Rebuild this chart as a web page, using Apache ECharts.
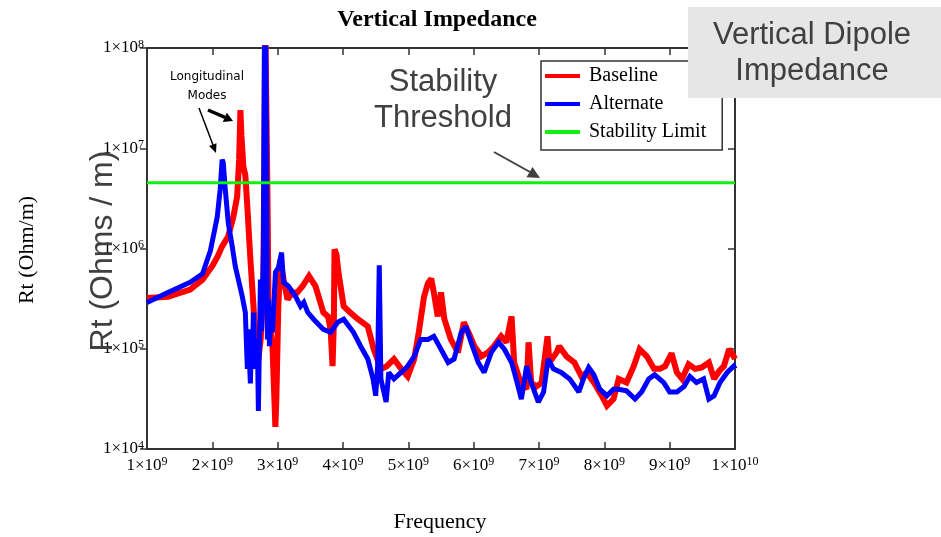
<!DOCTYPE html>
<html>
<head>
<meta charset="utf-8">
<title>Vertical Impedance</title>
<script src="https://cdn.jsdelivr.net/npm/echarts@6/dist/echarts.min.js"></script>
<style>
  html, body { margin: 0; padding: 0; background: #fff; }
  #chart { width: 941px; height: 537px; }
</style>
</head>
<body>
<div id="chart"></div>
<script>
// Frequency axis ticks (Hz) and impedance decades (Ohm/m)
const freqTicks = [1e9, 2e9, 3e9, 4e9, 5e9, 6e9, 7e9, 8e9, 9e9, 1e10];
const impedanceDecades = [1e4, 1e5, 1e6, 1e7, 1e8];

// Stability limit (Ohm/m)
const stabilityLimit = 4.54e6;

// Baseline impedance: [frequency Hz, Rt Ohm/m]
const baseline = [
  [1.00e9, 3.2e5], [1.32e9, 3.3e5], [1.66e9, 3.9e5], [1.85e9, 4.9e5], [2.00e9, 6.7e5],
  [2.08e9, 8.3e5], [2.15e9, 1.05e6], [2.24e9, 1.31e6], [2.32e9, 2.05e6], [2.38e9, 3.3e6],
  [2.41e9, 7.7e6], [2.43e9, 2.4e7], [2.445e9, 1.35e7], [2.475e9, 6.5e6], [2.505e9, 5.4e6],
  [2.536e9, 2.6e6], [2.58e9, 8.3e5], [2.63e9, 2.65e5], [2.66e9, 1.24e5], [2.69e9, 6.7e4],
  [2.74e9, 1.24e5], [2.78e9, 3.9e5], [2.797e9, 9.5e6], [2.81e9, 2e8], [2.83e9, 2e8],
  [2.845e9, 3e6], [2.86e9, 2.65e5], [2.89e9, 1.56e5], [2.92e9, 1.06e5], [2.95e9, 3.15e4],
  [2.965e9, 1.66e4], [2.98e9, 3.15e4], [3.01e9, 2.65e5], [3.04e9, 7.7e5], [3.09e9, 4.9e5],
  [3.15e9, 3.1e5], [3.23e9, 3.65e5], [3.30e9, 3.65e5], [3.38e9, 4.2e5], [3.48e9, 5.3e5],
  [3.58e9, 4.2e5], [3.70e9, 2.3e5], [3.77e9, 2.1e5], [3.81e9, 1.56e5], [3.84e9, 6.7e4],
  [3.86e9, 1.8e5], [3.87e9, 9.8e5], [3.90e9, 8.7e5], [3.93e9, 5.8e5], [4.01e9, 2.65e5],
  [4.11e9, 2.3e5], [4.23e9, 1.97e5], [4.38e9, 1.67e5], [4.47e9, 9.9e4], [4.58e9, 6.3e4],
  [4.67e9, 6.7e4], [4.78e9, 7.9e4], [4.89e9, 6.3e4], [4.99e9, 5.3e4], [5.09e9, 7.9e4],
  [5.16e9, 1.46e5], [5.24e9, 3.3e5], [5.30e9, 4.5e5], [5.35e9, 5.0e5], [5.39e9, 3.65e5],
  [5.45e9, 2.1e5], [5.50e9, 3.65e5], [5.55e9, 2.0e5], [5.65e9, 1.24e5], [5.76e9, 9.2e4],
  [5.85e9, 1.84e5], [5.92e9, 1.46e5], [6.01e9, 1.06e5], [6.12e9, 8.4e4], [6.22e9, 9.2e4],
  [6.31e9, 1.06e5], [6.42e9, 1.33e5], [6.50e9, 1.16e5], [6.58e9, 2.1e5], [6.62e9, 7.3e4],
  [6.70e9, 5.0e4], [6.73e9, 4.6e4], [6.81e9, 3.95e4], [6.84e9, 1.16e5], [6.88e9, 4.6e4],
  [6.96e9, 4.2e4], [7.04e9, 4.6e4], [7.13e9, 1.33e5], [7.16e9, 7.3e4], [7.27e9, 9.2e4],
  [7.31e9, 1.06e5], [7.42e9, 8.4e4], [7.54e9, 7.3e4], [7.65e9, 5.3e4], [7.73e9, 5.8e4],
  [7.84e9, 4.6e4], [7.96e9, 3.4e4], [8.04e9, 2.7e4], [8.14e9, 3.15e4], [8.22e9, 5.0e4],
  [8.34e9, 4.6e4], [8.45e9, 6.7e4], [8.54e9, 9.9e4], [8.65e9, 8.4e4], [8.76e9, 6.3e4],
  [8.85e9, 6.3e4], [8.93e9, 6.7e4], [9.03e9, 9.0e4], [9.11e9, 5.8e4], [9.19e9, 5.0e4],
  [9.29e9, 7.0e4], [9.39e9, 6.3e4], [9.49e9, 6.5e4], [9.60e9, 7.3e4], [9.68e9, 5.0e4],
  [9.76e9, 6.0e4], [9.83e9, 6.7e4], [9.91e9, 9.9e4], [9.98e9, 8.4e4], [1.0e10, 7.9e4]
];

// Alternate impedance: [frequency Hz, Rt Ohm/m]
const alternate = [
  [1.00e9, 2.9e5], [1.32e9, 3.65e5], [1.66e9, 4.6e5], [1.85e9, 5.6e5], [1.97e9, 9.5e5],
  [2.075e9, 2.06e6], [2.12e9, 3.9e6], [2.15e9, 7.7e6], [2.167e9, 7.2e6], [2.198e9, 3.9e6],
  [2.244e9, 1.8e6], [2.306e9, 1.03e6], [2.352e9, 6.6e5], [2.398e9, 4.9e5], [2.459e9, 3.3e5],
  [2.505e9, 2.3e5], [2.536e9, 6.3e4], [2.551e9, 1.56e5], [2.582e9, 4.5e4], [2.597e9, 1.1e5],
  [2.613e9, 7.9e4], [2.628e9, 2.3e5], [2.643e9, 9.9e4], [2.659e9, 6.3e4], [2.69e9, 1.24e5],
  [2.705e9, 2.4e4], [2.736e9, 4.9e5], [2.752e9, 1.5e5], [2.767e9, 3.1e5], [2.782e9, 9.8e5],
  [2.797e9, 1.1e8], [2.813e9, 2e8], [2.828e9, 9.5e6], [2.843e9, 1.24e5], [2.86e9, 3.1e5],
  [2.874e9, 1.06e5], [2.889e9, 1.97e5], [2.92e9, 1.46e5], [2.966e9, 5.8e5], [3.01e9, 6.4e5],
  [3.06e9, 9.1e5], [3.09e9, 4.6e5], [3.166e9, 4.2e5], [3.273e9, 3.33e5], [3.35e9, 2.65e5],
  [3.40e9, 2.9e5], [3.46e9, 2.31e5], [3.55e9, 1.97e5], [3.70e9, 1.56e5], [3.81e9, 1.46e5],
  [3.92e9, 1.84e5], [4.01e9, 1.97e5], [4.16e9, 1.46e5], [4.27e9, 1.06e5], [4.38e9, 7.9e4],
  [4.46e9, 5.0e4], [4.50e9, 3.4e4], [4.53e9, 6.7e4], [4.555e9, 6.8e5], [4.58e9, 5.0e4],
  [4.66e9, 2.94e4], [4.70e9, 5.8e4], [4.78e9, 5.0e4], [4.89e9, 5.8e4], [4.99e9, 6.7e4],
  [5.09e9, 8.4e4], [5.19e9, 1.24e5], [5.30e9, 1.24e5], [5.39e9, 1.33e5], [5.50e9, 9.9e4],
  [5.61e9, 7.3e4], [5.70e9, 7.9e4], [5.81e9, 1.46e5], [5.88e9, 1.67e5], [5.96e9, 1.16e5],
  [6.07e9, 7.3e4], [6.16e9, 5.8e4], [6.27e9, 9.2e4], [6.38e9, 1.16e5], [6.47e9, 9.9e4],
  [6.58e9, 7.3e4], [6.65e9, 5.0e4], [6.73e9, 3.15e4], [6.81e9, 6.7e4], [6.88e9, 4.6e4],
  [6.99e9, 2.94e4], [7.07e9, 3.7e4], [7.14e9, 7.9e4], [7.22e9, 6.3e4], [7.34e9, 5.8e4],
  [7.47e9, 5.0e4], [7.61e9, 3.7e4], [7.68e9, 5.0e4], [7.76e9, 6.5e4], [7.84e9, 5.5e4],
  [7.93e9, 3.95e4], [8.04e9, 3.4e4], [8.14e9, 3.95e4], [8.22e9, 3.95e4], [8.34e9, 3.8e4],
  [8.47e9, 3.15e4], [8.57e9, 3.7e4], [8.68e9, 5.0e4], [8.77e9, 5.5e4], [8.91e9, 4.6e4],
  [9.00e9, 3.7e4], [9.11e9, 3.7e4], [9.22e9, 4.2e4], [9.31e9, 5.3e4], [9.41e9, 4.6e4],
  [9.52e9, 5.0e4], [9.60e9, 3.15e4], [9.68e9, 3.4e4], [9.77e9, 4.6e4], [9.88e9, 5.8e4],
  [9.98e9, 6.7e4], [1.0e10, 6.3e4]
];

const SERIF = '"Liberation Serif", "Times New Roman", serif';
const SANS = '"Liberation Sans", Arial, sans-serif';
const INK = '#000';
const FRAME = '#333';
const GREY_TEXT = '#404040';

// "m×10^e" label with a raised exponent
function sciLabel(value) {
  const exp = Math.floor(Math.log10(value) + 1e-9);
  const mant = Math.round(value / Math.pow(10, exp));
  return mant + '×10{sup|' + exp + '}';
}
const supRich = {
  sup: { fontSize: 12, fontFamily: SERIF, color: INK, verticalAlign: 'top', padding: [0, 0, 7, 0] }
};

const chart = echarts.init(document.getElementById('chart'), null, { renderer: 'canvas' });

const option = {
  backgroundColor: '#fff',
  animation: false,
  grid: { left: 147, right: 206, top: 48, bottom: 88 },
  legend: {
    orient: 'vertical',
    left: 541,
    top: 61,
    padding: [5, 16, 8, 4],
    itemGap: 8,
    itemWidth: 35,
    itemHeight: 4,
    icon: 'rect',
    selectedMode: false,
    borderColor: FRAME,
    borderWidth: 1.5,
    backgroundColor: '#fff',
    textStyle: { fontFamily: SERIF, fontSize: 20, color: INK, padding: [0, 0, 0, 4] },
    data: ['Baseline', 'Alternate', 'Stability Limit']
  },
  xAxis: [
    {
      type: 'value',
      min: freqTicks[0],
      max: freqTicks[freqTicks.length - 1],
      interval: freqTicks[1] - freqTicks[0],
      position: 'bottom',
      axisLine: { show: true, lineStyle: { color: FRAME, width: 2 } },
      axisTick: { show: true, inside: true, length: 7, lineStyle: { color: FRAME, width: 1.5 } },
      splitLine: { show: false },
      axisLabel: {
        margin: 7,
        fontFamily: SERIF, fontSize: 17, color: INK,
        formatter: sciLabel,
        rich: supRich
      }
    },
    {
      type: 'value',
      min: freqTicks[0],
      max: freqTicks[freqTicks.length - 1],
      interval: freqTicks[1] - freqTicks[0],
      position: 'top',
      axisLine: { show: true, lineStyle: { color: FRAME, width: 2 } },
      axisTick: { show: true, inside: true, length: 7, lineStyle: { color: FRAME, width: 1.5 } },
      splitLine: { show: false },
      axisLabel: { show: false }
    }
  ],
  yAxis: [
    {
      type: 'log',
      logBase: 10,
      min: impedanceDecades[0],
      max: impedanceDecades[impedanceDecades.length - 1],
      position: 'left',
      axisLine: { show: true, lineStyle: { color: FRAME, width: 2 } },
      axisTick: { show: true, inside: false, length: 7, lineStyle: { color: FRAME, width: 1.5 } },
      minorTick: { show: false },
      splitLine: { show: false },
      axisLabel: {
        margin: 3,
        fontFamily: SERIF, fontSize: 17, color: INK,
        formatter: sciLabel,
        rich: supRich
      }
    },
    {
      type: 'log',
      logBase: 10,
      min: impedanceDecades[0],
      max: impedanceDecades[impedanceDecades.length - 1],
      position: 'right',
      axisLine: { show: true, lineStyle: { color: FRAME, width: 2 } },
      axisTick: { show: true, inside: true, length: 7, lineStyle: { color: FRAME, width: 1.5 } },
      splitLine: { show: false },
      axisLabel: { show: false }
    }
  ],
  series: [
    {
      name: 'Baseline',
      type: 'line',
      xAxisIndex: 0, yAxisIndex: 0,
      data: baseline,
      showSymbol: false,
      clip: true,
      color: '#ff0000',
      lineStyle: { color: '#ff0000', width: 6, join: 'miter', miterLimit: 2 },
      z: 2
    },
    {
      name: 'Alternate',
      type: 'line',
      xAxisIndex: 0, yAxisIndex: 0,
      data: alternate,
      showSymbol: false,
      clip: true,
      color: '#0000ff',
      lineStyle: { color: '#0000ff', width: 5, join: 'miter', miterLimit: 2 },
      z: 3
    },
    {
      name: 'Stability Limit',
      type: 'line',
      xAxisIndex: 0, yAxisIndex: 0,
      data: [[freqTicks[0], stabilityLimit], [freqTicks[freqTicks.length - 1], stabilityLimit]],
      showSymbol: false,
      color: '#11ee11',
      lineStyle: { color: '#11ee11', width: 3 },
      z: 4
    }
  ],
  graphic: [
    // chart title and axis names
    { type: 'text', x: 437, y: 20, z: 50,
      style: { text: 'Vertical Impedance', font: 'bold 24px ' + SERIF, fill: INK, align: 'center', verticalAlign: 'middle' } },
    { type: 'text', x: 440, y: 522, z: 50,
      style: { text: 'Frequency', font: '22px ' + SERIF, fill: INK, align: 'center', verticalAlign: 'middle' } },
    { type: 'text', x: 27, y: 250, rotation: Math.PI / 2, z: 50,
      style: { text: 'Rt (Ohm/m)', font: '22px ' + SERIF, fill: INK, align: 'center', verticalAlign: 'middle' } },
    // large unit caption beside the axis
    { type: 'text', x: 103, y: 251, rotation: Math.PI / 2, z: 60,
      style: { text: 'Rt (Ohms / m)', font: '32px ' + SANS, fill: GREY_TEXT, align: 'center', verticalAlign: 'middle' } },
    // threshold caption and arrow
    { type: 'text', x: 443, y: 82, z: 50,
      style: { text: 'Stability', font: '31px ' + SANS, fill: GREY_TEXT, align: 'center', verticalAlign: 'middle' } },
    { type: 'text', x: 443, y: 118, z: 50,
      style: { text: 'Threshold', font: '31px ' + SANS, fill: GREY_TEXT, align: 'center', verticalAlign: 'middle' } },
    { type: 'line', z: 50, shape: { x1: 494, y1: 152, x2: 530, y2: 172 },
      style: { stroke: GREY_TEXT, lineWidth: 2 } },
    { type: 'polygon', z: 50, shape: { points: [[540, 178], [526.5, 177.3], [532.5, 166.9]] },
      style: { fill: GREY_TEXT } },
    // longitudinal modes note
    { type: 'text', x: 207, y: 77, z: 50,
      style: { text: 'Longitudinal', font: '12px "DejaVu Sans", sans-serif', fill: INK, align: 'center', verticalAlign: 'middle' } },
    { type: 'text', x: 207, y: 96, z: 50,
      style: { text: 'Modes', font: '12px "DejaVu Sans", sans-serif', fill: INK, align: 'center', verticalAlign: 'middle' } },
    { type: 'line', z: 50, shape: { x1: 199, y1: 108, x2: 213, y2: 145 },
      style: { stroke: INK, lineWidth: 1.5 } },
    { type: 'polygon', z: 50, shape: { points: [[216, 153], [209.1, 146.0], [216.5, 143.2]] },
      style: { fill: INK } },
    { type: 'line', z: 50, shape: { x1: 208, y1: 110, x2: 225, y2: 117.4 },
      style: { stroke: INK, lineWidth: 3.5 } },
    { type: 'polygon', z: 50, shape: { points: [[233, 121], [222.8, 122.0], [226.8, 112.8]] },
      style: { fill: INK } },
    // caption box, top right
    { type: 'rect', z: 100, shape: { x: 688, y: 7, width: 253, height: 91 },
      style: { fill: '#e6e6e6' } },
    { type: 'text', x: 812, y: 35, z: 101,
      style: { text: 'Vertical Dipole', font: '31px ' + SANS, fill: GREY_TEXT, align: 'center', verticalAlign: 'middle' } },
    { type: 'text', x: 812, y: 71, z: 101,
      style: { text: 'Impedance', font: '31px ' + SANS, fill: GREY_TEXT, align: 'center', verticalAlign: 'middle' } }
  ]
};

chart.setOption(option);
</script>
</body>
</html>
